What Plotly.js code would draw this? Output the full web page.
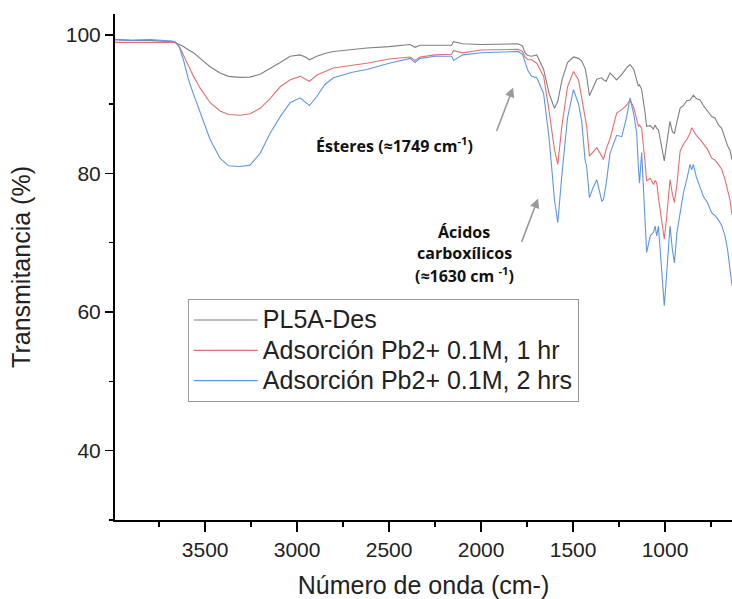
<!DOCTYPE html>
<html>
<head>
<meta charset="utf-8">
<script src="https://cdn.plot.ly/plotly-3.0.1.min.js"></script>
<style>html,body{margin:0;padding:0;background:#fff;}#chart{width:732px;height:599px;}</style>
</head>
<body>
<div id="chart"></div>
<script>
// Wavenumber (cm-1), descending
const wavenumber = [3990,3900,3800,3720,3680,3663,3640,3618,3590,3563,3527,3473,3419,3373,3310,3256,3201,3147,3092,3038,2984,2955,2933,2893,2850,2803,2700,2621,2500,2386,2359,2332,2250,2180,2160,2150,2100,2000,1900,1800,1775,1761,1745,1725,1697,1660,1630,1601,1583,1560,1530,1498,1470,1453,1435,1426,1411,1390,1371,1344,1335,1320,1299,1263,1235,1210,1190,1170,1154,1145,1139,1127,1110,1100,1080,1063,1054,1045,1036,1020,1004,990,973,960,949,935,918,900,882,864,855,846,830,810,792,770,746,728,710,692,674,660,647,636];

const transPL5A = [99.3,99.2,99.2,99.1,99.0,98.9,98.6,98.3,97.8,97.4,96.6,95.4,94.5,94.0,93.85,93.9,94.3,95.1,96.0,96.9,97.1,96.8,96.4,96.9,97.3,97.6,97.9,98.1,98.3,98.6,98.2,98.5,98.5,98.5,98.5,99.0,98.7,98.6,98.7,98.7,98.4,97.4,97.0,96.9,97.1,95.0,91.5,89.4,90.4,93.5,96.0,96.8,96.6,96.2,95.2,94.0,91.2,92.5,93.6,93.8,93.5,93.3,94.5,93.5,94.3,95.2,95.7,95.0,93.5,92.6,92.8,92.1,89.0,86.8,86.9,86.4,87.0,86.5,86.3,84.0,81.8,84.5,87.5,86.0,85.8,87.5,89.4,89.8,90.5,90.6,91.0,91.3,90.8,90.6,89.8,89.0,88.2,88.0,87.0,86.5,85.0,84.0,83.3,82.0];

const trans1hr = [98.9,98.9,98.9,98.9,98.9,98.9,98.3,97.1,95.7,94.0,92.3,90.2,89.0,88.5,88.4,88.6,89.4,90.8,92.5,93.5,94.0,93.6,93.3,94.2,94.7,95.2,95.6,95.9,96.5,96.8,96.3,96.8,97.1,97.2,97.2,97.7,97.4,97.8,97.8,97.9,97.6,96.8,96.4,96.4,95.9,94.0,89.0,83.4,81.3,87.0,92.5,94.7,93.5,91.0,88.0,86.8,82.5,83.2,83.7,82.5,82.0,83.5,85.0,88.7,89.2,89.8,90.6,89.5,87.5,86.8,87.0,86.5,82.0,78.9,79.3,78.4,79.0,78.6,76.5,73.5,70.5,74.0,79.1,77.0,75.8,78.5,83.2,84.2,84.9,85.8,86.6,86.2,85.5,84.9,84.2,83.5,82.2,81.9,81.3,80.6,79.1,77.6,76.2,74.0];

const trans2hrs = [99.3,99.2,99.3,99.2,99.1,99.0,98.2,96.4,93.5,91.4,88.7,84.9,82.2,81.1,81.0,81.2,82.9,85.8,88.2,90.2,90.9,90.3,89.8,91.1,92.8,93.8,94.6,95.0,95.9,96.6,96.0,96.6,96.9,96.9,96.9,96.3,97.1,97.4,97.5,97.6,97.2,95.9,94.8,94.0,93.8,91.5,85.0,76.2,72.9,80.0,88.0,92.1,90.0,87.5,82.0,81.0,76.5,78.0,79.1,76.0,76.2,78.5,82.9,85.5,85.3,88.0,90.9,88.5,85.8,81.0,78.6,83.0,75.0,68.6,71.0,71.5,72.4,71.0,72.4,67.0,60.9,66.0,72.4,69.0,67.1,71.5,74.3,77.2,79.1,81.3,80.5,81.3,79.5,78.0,76.7,75.8,74.3,73.9,73.3,72.5,71.0,69.0,66.5,63.8];

const seriesNames = ["PL5A-Des", "Adsorción Pb2+ 0.1M, 1 hr", "Adsorción Pb2+ 0.1M, 2 hrs"];
const seriesColors = ["#7f7f7f", "#e27070", "#5e98de"];
const seriesValues = [transPL5A, trans1hr, trans2hrs];

const traces = seriesValues.map((vals, i) => ({
  x: wavenumber, y: vals, type: "scatter", mode: "lines",
  name: '<span style="font-size:25px">' + seriesNames[i] + '</span>',
  line: {color: seriesColors[i], width: 1.1}
}));

const annFont = {family: "Open Sans, sans-serif", size: 16, color: "#111"};
const layout = {
  width: 732, height: 599,
  margin: {l: 115, r: 0, t: 14, b: 79},
  paper_bgcolor: "#fff", plot_bgcolor: "#fff",
  font: {family: "Liberation Sans, Arial, sans-serif", color: "#222"},
  showlegend: true,
  legend: {
    x: 0.118, y: 0.437, xanchor: "left", yanchor: "top",
    bgcolor: "#fff", bordercolor: "#999", borderwidth: 1,
    font: {size: 21, family: "Liberation Sans, Arial, sans-serif", color: "#222"},
    itemwidth: 64, tracegroupgap: 0
  },
  xaxis: {
    range: [3990, 636], autorange: false,
    tick0: 0, dtick: 500, ticks: "outside", ticklen: 10, tickwidth: 1.5, tickcolor: "#000",
    minor: {dtick: 250, ticks: "outside", ticklen: 5, tickwidth: 1.5, tickcolor: "#000"},
    showline: true, linecolor: "#000", linewidth: 2, showgrid: false, zeroline: false,
    tickfont: {size: 21, color: "#222"},
    title: {text: "Número de onda (cm-)", font: {size: 25, color: "#222"}, standoff: 18}
  },
  yaxis: {
    range: [30, 103], autorange: false,
    tick0: 0, dtick: 20, ticks: "outside", ticklen: 8, tickwidth: 1.5, tickcolor: "#000",
    minor: {dtick: 10, ticks: "outside", ticklen: 4, tickwidth: 1.5, tickcolor: "#000"},
    showline: true, linecolor: "#000", linewidth: 2, showgrid: false, zeroline: false,
    tickfont: {size: 21, color: "#222"},
    title: {text: "Transmitancia (%)", font: {size: 25, color: "#222"}, standoff: 28}
  },
  annotations: [
    {x: 2473, y: 84.15, xref: "x", yref: "y", text: "<b>Ésteres (≈1749 cm<sup>-1</sup>)</b>", showarrow: false, font: annFont},
    {x: 1826, y: 92.4, xref: "x", yref: "y", ax: -17, ay: 45, showarrow: true, arrowhead: 2, arrowsize: 1.2, arrowwidth: 1.6, arrowcolor: "#999", text: ""},
    {x: 2092, y: 71.6, xref: "x", yref: "y", text: "<b>Ácidos</b>", showarrow: false, font: annFont},
    {x: 2092, y: 68.55, xref: "x", yref: "y", text: "<b>carboxílicos</b>", showarrow: false, font: annFont},
    {x: 2092, y: 65.4, xref: "x", yref: "y", text: "<b>(≈1630 cm <sup>-1</sup>)</b>", showarrow: false, font: annFont},
    {x: 1690, y: 76.4, xref: "x", yref: "y", ax: -17, ay: 45, showarrow: true, arrowhead: 2, arrowsize: 1.2, arrowwidth: 1.6, arrowcolor: "#999", text: ""}
  ]
};

Plotly.newPlot("chart", traces, layout, {staticPlot: true, displayModeBar: false});
</script>
</body>
</html>
